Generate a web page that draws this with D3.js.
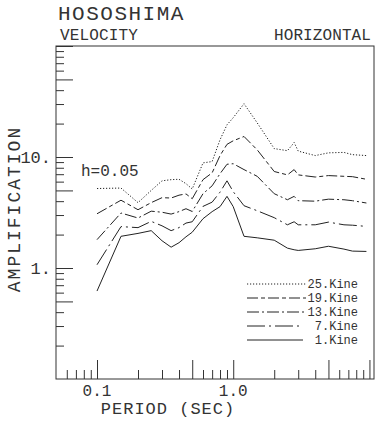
<!DOCTYPE html>
<html>
<head>
<meta charset="utf-8">
<script src="https://cdn.jsdelivr.net/npm/d3@7"></script>
<style>
  body { margin: 0; background: #fff; }
  text { font-family: "Liberation Mono", monospace; fill: #333; }
</style>
</head>
<body>
<div id="chart"></div>
<script>
// periods (sec) where the spectra are read
var periods = [0.1, 0.15, 0.2, 0.25, 0.3, 0.35, 0.4, 0.45, 0.5, 0.6, 0.7, 0.8, 0.9, 1.0, 1.2, 1.5, 2.0, 2.5, 2.8, 3.0, 4.0, 5.0, 6.5, 7.5, 9.5];

// amplification per input level
var kine25 = [5.2, 5.25, 3.88, 5.0, 6.1, 6.25, 6.3, 5.75, 5.15, 8.85, 9.1, 14.3, 19.5, 22.6, 30.2, 20.3, 11.9, 11.4, 13.5, 11.3, 10.3, 10.9, 11.0, 10.5, 10.3];
var kine19 = [3.08, 4.08, 3.35, 3.88, 4.3, 4.27, 4.53, 4.65, 4.21, 6.25, 7.2, 10.3, 13.0, 14.0, 15.3, 11.6, 7.4, 6.9, 7.7, 6.9, 6.6, 6.8, 6.7, 6.65, 6.3];
var kine13 = [1.8, 3.13, 2.82, 3.25, 3.18, 3.06, 3.22, 3.42, 3.23, 4.67, 5.5, 7.07, 8.6, 8.7, 7.7, 6.7, 4.67, 4.12, 4.42, 4.04, 4.0, 4.17, 4.12, 4.04, 3.85];
var kine7 = [1.07, 2.36, 2.31, 2.63, 2.4, 2.17, 2.31, 2.54, 2.61, 3.59, 3.92, 4.82, 6.1, 4.87, 3.64, 3.28, 2.84, 2.45, 2.61, 2.45, 2.45, 2.59, 2.45, 2.43, 2.37];
var kine1 = [0.62, 1.93, 2.05, 2.17, 1.76, 1.54, 1.69, 1.91, 2.1, 2.78, 3.22, 3.57, 4.42, 3.57, 1.93, 1.87, 1.78, 1.51, 1.46, 1.44, 1.49, 1.57, 1.48, 1.42, 1.41];

var seriesNames = ["25.Kine", "19.Kine", "13.Kine", "7.Kine", "1.Kine"];
var seriesValues = [kine25, kine19, kine13, kine7, kine1];
var seriesDash = ["1.2,1.8", "11,3,4,3", "12,3,2,3", "18,4,2,4", null];

var xTickLabels = [{ v: 0.1, t: "0.1" }, { v: 1.0, t: "1.0" }];
var yTickLabels = [{ v: 10, t: "10." }, { v: 1, t: "1." }];

function drawChart() {
    var w = 377, h = 425;
    var margin = { left: 56, right: 374, top: 46, bottom: 379 };

    var svg = d3.select("#chart").append("svg")
        .attr("width", w)
        .attr("height", h);

    var xScale = d3.scaleLog().domain([0.05, 10.8]).range([margin.left, margin.right]);
    var yScale = d3.scaleLog().domain([0.1, 100]).range([margin.bottom, margin.top]);

    // minor / major tick values
    var xMinor = [], xMajor = [0.1, 0.5, 1, 5, 10];
    [0.01, 0.1, 1].forEach(function (dec) {
        for (var k = 2; k <= 9; k++) {
            var v = +(k * dec).toFixed(3);
            if (v > 0.05 && v < 10.8 && xMajor.indexOf(v) < 0) xMinor.push(v);
        }
    });
    var yMinor = [], yMajor = [0.5, 1, 5, 10, 50, 100];
    [0.1, 1, 10].forEach(function (dec) {
        for (var k = 2; k <= 9; k++) {
            var v = +(k * dec).toFixed(3);
            if (yMajor.indexOf(v) < 0) yMinor.push(v);
        }
    });

    function tickAxis(gen, pos, vals, size) {
        var g = svg.append("g")
            .attr("transform", pos)
            .call(gen.tickValues(vals).tickSize(size).tickFormat(""));
        g.select(".domain").remove();
        g.selectAll("line").attr("stroke", "#333").attr("stroke-width", 1);
    }
    tickAxis(d3.axisBottom(xScale), "translate(0," + margin.bottom + ")", xMinor, -9);
    tickAxis(d3.axisBottom(xScale), "translate(0," + margin.bottom + ")", xMajor, -19);
    tickAxis(d3.axisLeft(yScale), "translate(" + margin.left + ",0)", yMinor, -8);
    tickAxis(d3.axisLeft(yScale), "translate(" + margin.left + ",0)", yMajor, -17);

    // frame
    svg.append("rect")
        .attr("x", margin.left)
        .attr("y", margin.top)
        .attr("width", margin.right - margin.left)
        .attr("height", margin.bottom - margin.top)
        .attr("fill", "none")
        .attr("stroke", "#333")
        .attr("stroke-width", 1);

    // tick labels
    svg.selectAll(".xlab")
        .data(xTickLabels)
        .enter().append("text")
        .attr("x", d => xScale(d.v))
        .attr("y", margin.bottom + 17)
        .attr("text-anchor", "middle")
        .style("font-size", "16px")
        .text(d => d.t);

    svg.selectAll(".ylab")
        .data(yTickLabels)
        .enter().append("text")
        .attr("x", margin.left - 5)
        .attr("y", d => yScale(d.v) + 6)
        .attr("text-anchor", "end")
        .style("font-size", "17px")
        .text(d => d.t);

    // curves
    var line = d3.line()
        .x(d => xScale(d[0]))
        .y(d => yScale(d[1]));

    seriesValues.forEach(function (vals, i) {
        svg.append("path")
            .datum(periods.map((p, j) => [p, vals[j]]))
            .attr("d", line)
            .attr("fill", "none")
            .attr("stroke", "#222")
            .attr("stroke-width", 1)
            .attr("stroke-dasharray", seriesDash[i]);
    });

    // titles
    svg.append("text").attr("x", 58).attr("y", 19.5)
        .style("font-size", "21px").style("letter-spacing", "1.5px")
        .text("HOSOSHIMA");
    svg.append("text").attr("x", 60).attr("y", 39.5)
        .style("font-size", "16px").style("letter-spacing", "0.15px")
        .text("VELOCITY");
    svg.append("text").attr("x", 274).attr("y", 39.5)
        .style("font-size", "16px").style("letter-spacing", "0.1px")
        .text("HORIZONTAL");
    svg.append("text").attr("x", 81).attr("y", 176)
        .style("font-size", "16px")
        .text("h=0.05");

    svg.append("text")
        .attr("transform", "translate(20,209) rotate(-90)")
        .attr("text-anchor", "middle")
        .style("font-size", "18px").style("letter-spacing", "2px")
        .text("AMPLIFICATION");

    svg.append("text")
        .attr("x", 168).attr("y", 414)
        .attr("text-anchor", "middle")
        .style("font-size", "17px").style("letter-spacing", "1px")
        .text("PERIOD (SEC)");

    // legend
    var legendItem = svg.append("g")
        .attr("class", "legend")
        .selectAll(".legend-item")
        .data(seriesNames)
        .enter().append("g")
        .attr("transform", (d, i) => "translate(0," + (284 + i * 14) + ")");

    legendItem.append("line")
        .attr("x1", 247)
        .attr("x2", (d, i) => i < 3 ? 306 : 303)
        .attr("y1", 0).attr("y2", 0)
        .attr("stroke", "#222")
        .attr("stroke-width", 1)
        .attr("stroke-dasharray", (d, i) => seriesDash[i]);

    legendItem.append("text")
        .attr("x", 358)
        .attr("y", 4)
        .attr("text-anchor", "end")
        .style("font-size", "12px")
        .text(d => d);
}

drawChart();
</script>
</body>
</html>
